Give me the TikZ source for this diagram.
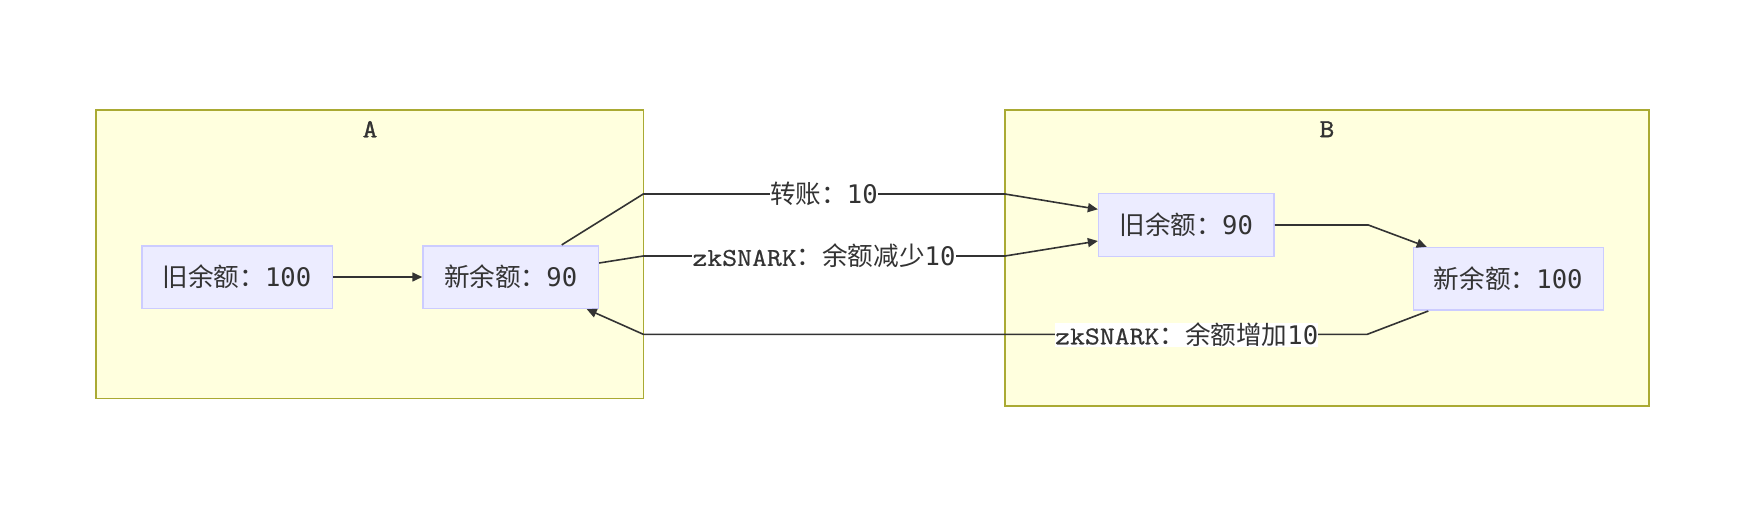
\documentclass[tikz,border=0pt]{standalone}
\usepackage{fontspec}
\setmainfont{DejaVu Sans Mono}
\newfontfamily\cjk{Noto Sans CJK SC}
\newfontfamily\cour[FakeStretch=1.13,FakeBold=0.6]{Latin Modern Mono}
\newfontfamily\courb[FakeStretch=1.1,FakeBold=1.3]{Latin Modern Mono}
\usetikzlibrary{arrows.meta}
\definecolor{clfill}{HTML}{FFFFDE}
\definecolor{clline}{HTML}{AAAA33}
\definecolor{ndfill}{HTML}{ECECFF}
\definecolor{ndline}{HTML}{CCCCFF}
\definecolor{txt}{HTML}{333333}
\begin{document}
\begin{tikzpicture}[x=0.5pt,y=-0.5pt,
  font=\fontsize{12.8pt}{15pt}\selectfont, text=txt,
  cluster/.style={draw=clline, fill=clfill, line width=0.8pt},
  box/.style={draw=ndline, fill=ndfill, line width=0.8pt, minimum height=31.3pt, inner sep=0pt},
  lbl/.style={fill=white, inner sep=0pt, minimum height=12pt},
  conn/.style={draw=txt, line width=0.8pt},
  arr/.style={conn, -{Triangle[length=5pt,width=4.5pt]}},
  ttl/.style={inner sep=0pt, font=\courb\fontsize{13pt}{15pt}\selectfont}]
\useasboundingbox (0,0) rectangle (1752,524);
\fill[white] (0,0) rectangle (1752,524);
% clusters
\draw[cluster] (96,110) rectangle (643.3,398.3);
\draw[cluster] (1005,110) rectangle (1648.7,406);
\node[ttl] (tA) at (370,129.2) {A};
\node[ttl] (tB) at (1326.9,129.2) {B};
% nodes
\node[box, minimum width=95.3pt] (n1) at (237,277) {{\cjk 旧余额：}100};
\node[box, minimum width=87.65pt] (n2) at (510.7,277) {{\cjk 新余额：}90};
\node[box, minimum width=87.65pt] (n3) at (1186.3,225) {{\cjk 旧余额：}90};
\node[box, minimum width=95pt] (n4) at (1508.3,278.9) {{\cjk 新余额：}100};
% bend points
\coordinate (a1) at (643.3,194);
\coordinate (b1) at (1005,194);
\coordinate (a2) at (643.3,256);
\coordinate (b2) at (1005,256);
\coordinate (c1) at (1368.3,225);
\coordinate (d1) at (1367.3,334.3);
\coordinate (d2) at (643.3,334.3);
% connectors
\draw[arr] (n1) -- (n2);
\draw[arr] ([xshift=25.5pt]n2.north) -- (a1) -- (b1) -- ([yshift=7.85pt]n3.west);
\draw[arr] ([yshift=7pt]n2.east) -- (a2) -- (b2) -- ([yshift=-8pt]n3.west);
\draw[arr] (n3.east) -- (c1) -- ([xshift=-40.8pt]n4.north);
\draw[arr] ([xshift=-40pt]n4.south) -- (d1) -- (d2) -- ([xshift=38pt]n2.south);
% labels
\node[lbl] (l1) at (824,194) {{\cjk 转账：}10};
\node[lbl] (l2) at (824,256) {{\cour zkSNARK}{\cjk ：余额减少}10};
\node[lbl] (l3) at (1186.7,334.5) {{\cour zkSNARK}{\cjk ：余额增加}10};
\end{tikzpicture}
\end{document}
